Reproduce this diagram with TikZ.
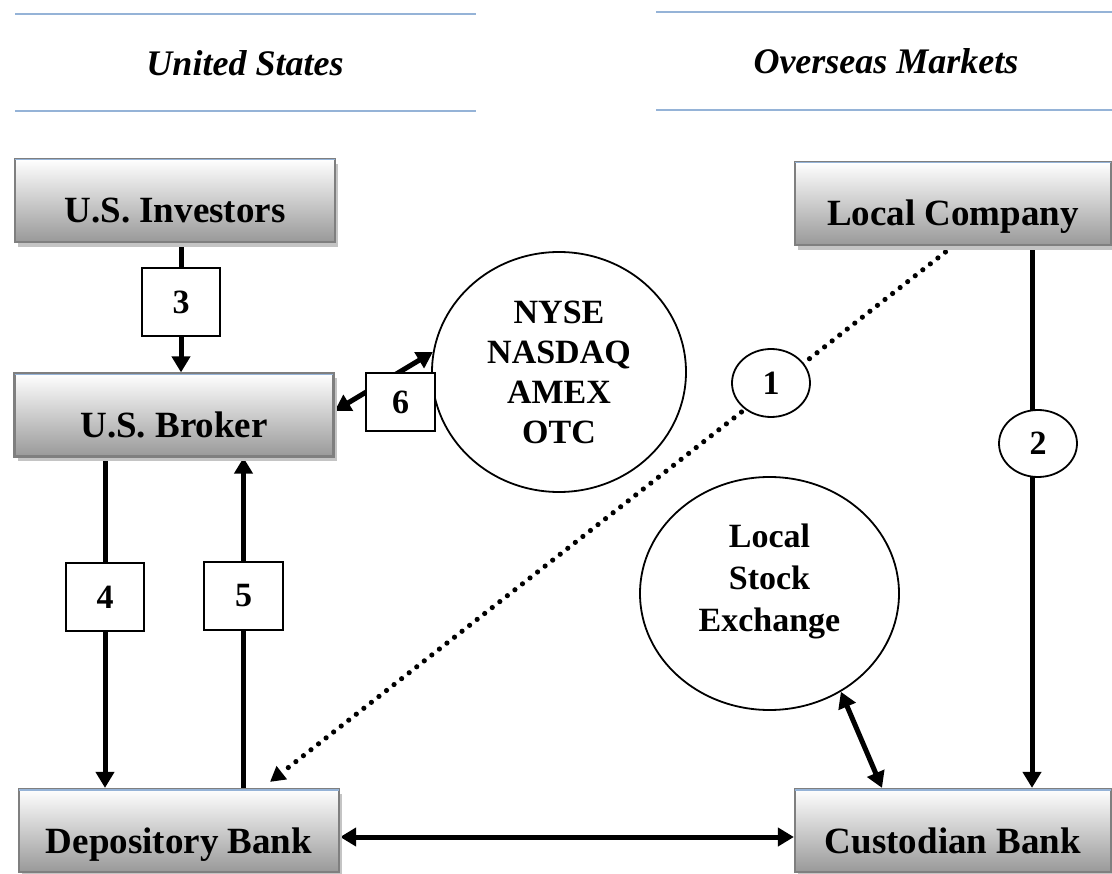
\documentclass[tikz,border=0pt]{standalone}
\usepackage{fontspec}
\setmainfont{Liberation Serif}
\usetikzlibrary{arrows.meta,shapes.geometric,shadows}
\definecolor{hdrblue}{HTML}{95B3D7}
\definecolor{boxborder}{HTML}{7F7F7F}
\definecolor{boxbottom}{HTML}{999999}
\definecolor{shadowgray}{HTML}{C4C4C4}
\pgfdeclarelayer{bg}
\pgfsetlayers{bg,main}
\begin{document}
\begin{tikzpicture}[x=1pt,y=-1pt,
  bigbox/.style={rectangle, draw=boxborder, line width=2.2pt, top color=white, bottom color=boxbottom,
    minimum height=83pt, inner sep=0pt, text height=45pt, text depth=0pt,
    font=\fontsize{37}{40}\selectfont\bfseries,
    general shadow={fill=shadowgray, shadow xshift=3pt, shadow yshift=-5pt}},
  numbox/.style={rectangle, draw=black, line width=1.8pt, fill=white, inner sep=0pt,
    font=\fontsize{34}{40}\selectfont\bfseries},
  numcirc/.style={ellipse, draw=black, line width=1.8pt, fill=white, inner sep=0pt,
    font=\fontsize{34}{40}\selectfont\bfseries},
  market/.style={ellipse, draw=black, line width=1.8pt, fill=white, inner sep=0pt},
  mtext/.style={align=center, inner sep=0pt},
  arr/.style={line width=5pt, -{Triangle[length=16pt,width=18pt]}},
  darr/.style={line width=5pt, {Triangle[length=16pt,width=18pt]}-{Triangle[length=16pt,width=18pt]}},
  dotarr/.style={line width=5.2pt, line cap=round, dash pattern=on 0pt off 9.6pt,
    -{Triangle[length=15pt,width=16pt]}},
  hdrline/.style={draw=hdrblue, line width=1.5pt},
  hdr/.style={font=\fontsize{36}{40}\selectfont\bfseries\itshape, anchor=base, inner sep=0pt},
  topline/.style={draw=hdrblue, line width=1.4pt}
]
\useasboundingbox (0,0) rectangle (1112,874);

% headers
\draw[hdrline] (15,14) -- (476,14);
\draw[hdrline] (15,111) -- (476,111);
\draw[hdrline] (656,12) -- (1112,12);
\draw[hdrline] (656,110) -- (1112,110);
\node[hdr] (hus) at (245,76) {United States};
\node[hdr] (hos) at (886,73.5) {Overseas Markets};

% main boxes
\node[bigbox, minimum width=320pt] (inv) at (175,200.5) {U.S. Investors};
\node[bigbox, minimum width=319pt] (brk) at (174,415) {U.S. Broker};
\node[bigbox, minimum width=320pt] (dep) at (179,830.5) {Depository Bank};
\node[bigbox, minimum width=316pt] (lc) at (953,203.5) {Local Company};
\node[bigbox, minimum width=316pt] (cus) at (953,830.5) {Custodian Bank};
\foreach \b in {inv,brk,dep,lc,cus}{
  \draw[topline] ([xshift=1.2pt,yshift=-1.9pt]\b.north west) -- ([xshift=-1.2pt,yshift=-1.9pt]\b.north east);
}

% markets
\node[market, minimum width=254pt, minimum height=240pt, mtext,
      font=\fontsize{34}{40}\selectfont\bfseries] (nyse) at (559,372) {NYSE\\NASDAQ\\AMEX\\OTC};
\node[market, minimum width=259pt, minimum height=233pt] (lse) at (769.5,593.5) {};
\node[mtext, font=\fontsize{34}{42}\selectfont\bfseries] (lsetxt) at (769.5,581) {Local\\Stock\\Exchange};

% step labels
\node[numbox, minimum width=78pt, minimum height=68pt] (n3) at (181,302) {3};
\node[numbox, minimum width=78pt, minimum height=68pt] (n4) at (105,597) {4};
\node[numbox, minimum width=79pt, minimum height=68pt] (n5) at (243.5,596) {5};
\node[numbox, minimum width=69pt, minimum height=58pt] (n6) at (400.5,402) {6};
\node[numcirc, minimum width=78pt, minimum height=68pt] (c1) at (771,383) {1};
\node[numcirc, minimum width=78pt, minimum height=67pt] (c2) at (1038,443.5) {2};

% connectors
\begin{pgfonlayer}{bg}
\draw[arr] (n3 |- inv.south) -- (n3 |- brk.north);
\draw[arr] (n4 |- brk.south) -- (n4 |- dep.north);
\draw[arr] (n5 |- dep.north) -- (n5 |- brk.south);
\draw[darr] ([yshift=4pt]brk.east) -- (nyse.171);
\draw[dotarr] (lc.south) -- ([xshift=91pt,yshift=6pt]dep.north);
\draw[arr] ([xshift=79pt]lc.south) -- ([xshift=79pt]cus.north);
\draw[darr] ([yshift=-6.5pt]dep.east) -- ([yshift=-6.5pt]cus.west);
\draw[darr] (lse.-54) -- ([xshift=-71pt]cus.north);
\end{pgfonlayer}
\end{tikzpicture}
\end{document}
